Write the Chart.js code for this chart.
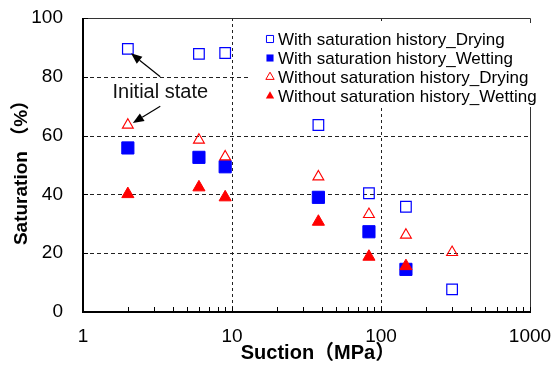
<!DOCTYPE html>
<html>
<head>
<meta charset="utf-8">
<script src="https://cdn.jsdelivr.net/npm/chart.js@4.4.0/dist/chart.umd.min.js"></script>
<style>
  html, body { margin: 0; padding: 0; background: #fff; }
  #wrap { width: 554px; height: 365px; }
</style>
</head>
<body>
<div id="wrap"><canvas id="chart" width="554" height="365"></canvas></div>
<script>
// suction (MPa) for drying / wetting paths
const suctionDrying  = [2, 6, 9, 38, 83, 147, 300];
const suctionWetting = [2, 6, 9, 38, 83, 147];

// degree of saturation (%)
const satWithDrying     = [89.5, 87.8, 88.1, 63.6, 40.4, 35.8, 7.7];
const satWithWetting    = [55.8, 52.6, 49.4, 39.0, 27.3, 14.5];
const satWithoutDrying  = [63.6, 58.5, 52.8, 46.0, 33.2, 26.2, 20.3];
const satWithoutWetting = [40.1, 42.4, 39.0, 30.7, 18.8, 15.6];

const seriesNames = [
  'With saturation history_Drying',
  'With saturation history_Wetting',
  'Without saturation history_Drying',
  'Without saturation history_Wetting'
];

const xTickLabels = [1, 10, 100, 1000];
const yTickStep   = 20;
const gridX = [10, 100];
const gridY = [20, 40, 60, 80];

// "Initial state" note: text anchor and the two arrows (tail -> head), in data units
const noteText = 'Initial state';
const notePos  = { x: 3.3, y: 74.8 };
const noteArrows = [
  { from: { x: 3.3, y: 80 }, to: { x: 2.1, y: 88 } },
  { from: { x: 3.3, y: 70 }, to: { x: 2.16, y: 64.3 } }
];

const FONT = '"Liberation Sans", Arial, "Noto Sans CJK SC", sans-serif';
const BLUE = '#0000ff';
const RED  = '#ff0000';

const toPts = (xs, ys) => xs.map((x, i) => ({ x, y: ys[i] }));

function drawMarker(ctx, style, filled, color, x, y, r) {
  ctx.beginPath();
  if (style === 'rect') {
    const s = r * Math.SQRT1_2;
    ctx.rect(x - s, y - s, 2 * s, 2 * s);
  } else {
    const w = r * Math.sin(Math.PI / 3);
    ctx.moveTo(x, y - r);
    ctx.lineTo(x + w, y + r / 2);
    ctx.lineTo(x - w, y + r / 2);
    ctx.closePath();
  }
  if (filled) { ctx.fillStyle = color; ctx.fill(); }
  else { ctx.strokeStyle = color; ctx.lineWidth = 1; ctx.stroke(); }
}

// grid, frame and minor ticks under the markers
const framePlugin = {
  id: 'frame',
  beforeDatasetsDraw(chart) {
    const { ctx, chartArea: a, scales: { x, y } } = chart;
    ctx.save();
    ctx.strokeStyle = '#222';
    ctx.lineWidth = 1;

    ctx.setLineDash([4, 3]);
    gridY.forEach(v => {
      const py = Math.round(y.getPixelForValue(v)) + 0.5;
      ctx.beginPath(); ctx.moveTo(a.left, py); ctx.lineTo(a.right, py); ctx.stroke();
    });
    ctx.setLineDash([3, 3]);
    gridX.forEach(v => {
      const px = Math.round(x.getPixelForValue(v)) + 0.5;
      ctx.beginPath(); ctx.moveTo(px, a.top); ctx.lineTo(px, a.bottom); ctx.stroke();
    });
    ctx.setLineDash([]);

    // top and right edges
    ctx.strokeStyle = '#333';
    ctx.beginPath();
    ctx.moveTo(a.left, a.top + 0.5); ctx.lineTo(a.right + 0.5, a.top + 0.5);
    ctx.lineTo(a.right + 0.5, a.bottom);
    ctx.stroke();

    // minor ticks along the suction axis
    ctx.strokeStyle = '#000';
    for (let d = 1; d < 1000; d *= 10) {
      for (let k = 2; k <= 10; k++) {
        const px = Math.round(x.getPixelForValue(k * d)) + 0.5;
        ctx.beginPath(); ctx.moveTo(px, a.bottom); ctx.lineTo(px, a.bottom - 5); ctx.stroke();
      }
    }
    // major ticks on the saturation axis
    for (let v = 0; v <= 100; v += yTickStep) {
      const py = Math.round(y.getPixelForValue(v)) + 0.5;
      ctx.beginPath(); ctx.moveTo(a.left, py); ctx.lineTo(a.left + 5, py); ctx.stroke();
    }

    // left and bottom axes
    ctx.lineWidth = 2;
    ctx.beginPath();
    ctx.moveTo(a.left, a.top); ctx.lineTo(a.left, a.bottom); ctx.lineTo(a.right + 1, a.bottom);
    ctx.stroke();
    ctx.restore();
  }
};

// legend box, note with arrows, axis titles
const overlayPlugin = {
  id: 'overlay',
  afterDatasetsDraw(chart) {
    const { ctx, chartArea: a, scales: { x, y } } = chart;
    ctx.save();

    // legend
    const lx = a.right - 280, ly = a.top + 5;
    ctx.fillStyle = '#fff';
    ctx.fillRect(lx, ly, 290, 84);
    ctx.font = '17px ' + FONT;
    ctx.textBaseline = 'middle';
    ctx.textAlign = 'left';
    chart.data.datasets.forEach((ds, i) => {
      const cy = ly + 16 + i * 19;
      const filled = ds.backgroundColor !== 'transparent';
      drawMarker(ctx, ds.pointStyle, filled, ds.borderColor, lx + 20, cy, ds.pointStyle === 'rect' ? 5 : 4.8);
      ctx.fillStyle = '#000';
      ctx.fillText(ds.label, lx + 28, cy + 1);
    });

    // initial state note
    ctx.font = '20px ' + FONT;
    ctx.textAlign = 'center';
    ctx.fillStyle = '#111';
    ctx.fillText(noteText, x.getPixelForValue(notePos.x), y.getPixelForValue(notePos.y));
    noteArrows.forEach(ar => {
      const x0 = x.getPixelForValue(ar.from.x), y0 = y.getPixelForValue(ar.from.y);
      const x1 = x.getPixelForValue(ar.to.x),   y1 = y.getPixelForValue(ar.to.y);
      const ang = Math.atan2(y1 - y0, x1 - x0);
      const hl = 11, hw = 4.5;
      const bx = x1 - Math.cos(ang) * hl, by = y1 - Math.sin(ang) * hl;
      ctx.strokeStyle = '#000'; ctx.lineWidth = 1.2;
      ctx.beginPath(); ctx.moveTo(x0, y0); ctx.lineTo(bx, by); ctx.stroke();
      ctx.fillStyle = '#000';
      ctx.beginPath();
      ctx.moveTo(x1, y1);
      ctx.lineTo(bx + Math.sin(ang) * hw, by - Math.cos(ang) * hw);
      ctx.lineTo(bx - Math.sin(ang) * hw, by + Math.cos(ang) * hw);
      ctx.closePath(); ctx.fill();
    });

    // axis titles
    ctx.fillStyle = '#000';
    ctx.font = 'bold 20px ' + FONT;
    ctx.fillText('Suction（MPa）', 318, 353);
    ctx.save();
    ctx.translate(22, 168);
    ctx.rotate(-Math.PI / 2);
    ctx.font = 'bold 19px ' + FONT;
    ctx.fillText('Saturation （%）', 0, 0);
    ctx.restore();

    ctx.restore();
  }
};

const tickFont = { family: FONT, size: 19 };

new Chart(document.getElementById('chart'), {
  type: 'scatter',
  data: {
    datasets: [
      { label: seriesNames[0], data: toPts(suctionDrying, satWithDrying), pointStyle: 'rect',
        borderColor: BLUE, backgroundColor: 'transparent', pointRadius: 7.5, pointBorderWidth: 1.2, order: 4 },
      { label: seriesNames[1], data: toPts(suctionWetting, satWithWetting), pointStyle: 'rect',
        borderColor: BLUE, backgroundColor: BLUE, pointRadius: 8.6, pointBorderWidth: 1, order: 3 },
      { label: seriesNames[2], data: toPts(suctionDrying, satWithoutDrying), pointStyle: 'triangle',
        borderColor: RED, backgroundColor: 'transparent', pointRadius: 6.3, pointBorderWidth: 1.1, order: 2 },
      { label: seriesNames[3], data: toPts(suctionWetting, satWithoutWetting), pointStyle: 'triangle',
        borderColor: RED, backgroundColor: RED, pointRadius: 7, pointBorderWidth: 1, order: 1 }
    ]
  },
  options: {
    responsive: false,
    animation: false,
    layout: { padding: { top: 18, right: 24, left: 0, bottom: 0 } },
    plugins: { legend: { display: false }, tooltip: { enabled: false } },
    scales: {
      x: {
        type: 'logarithmic', min: 1, max: 1000,
        grid: { display: false, drawTicks: false },
        border: { display: false },
        ticks: {
          autoSkip: false, maxRotation: 0, padding: 13, font: tickFont, color: '#000',
          callback: v => xTickLabels.includes(Math.round(v)) && Math.abs(Math.log10(v) % 1) < 1e-9 ? String(Math.round(v)) : ''
        },
        afterFit: s => { s.height = 53; s.paddingLeft = 0; s.paddingRight = 0; }
      },
      y: {
        min: 0, max: 100,
        grid: { display: false, drawTicks: false },
        border: { display: false },
        ticks: { stepSize: yTickStep, padding: 20, font: tickFont, color: '#000' },
        afterFit: s => { s.width = 83; s.paddingTop = 0; s.paddingBottom = 0; }
      }
    }
  },
  plugins: [framePlugin, overlayPlugin]
});
</script>
</body>
</html>
